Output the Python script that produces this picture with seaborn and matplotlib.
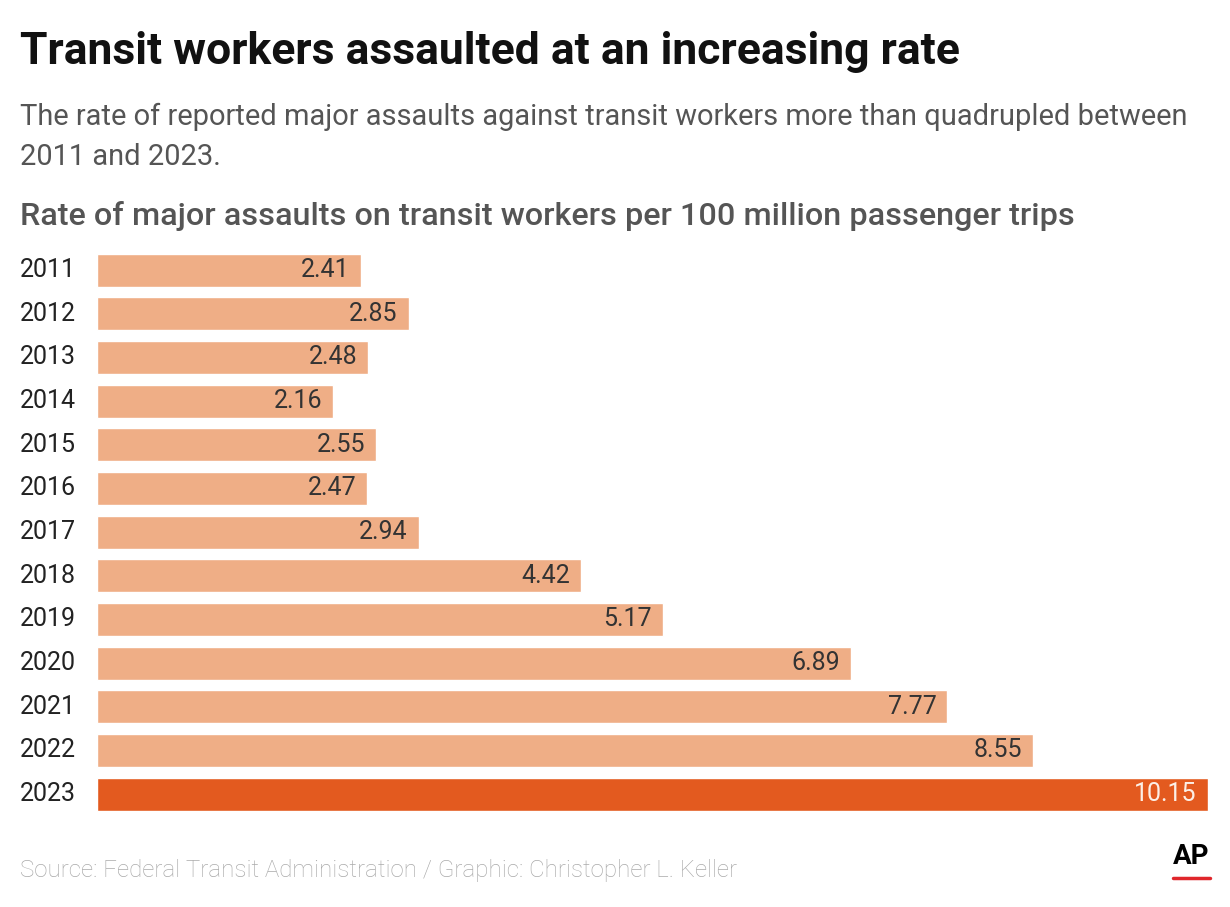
import matplotlib
matplotlib.use("Agg")
import matplotlib.pyplot as plt
import matplotlib.transforms as mtransforms
import seaborn as sns
import pandas as pd

years = ["2011", "2012", "2013", "2014", "2015", "2016", "2017",
         "2018", "2019", "2020", "2021", "2022", "2023"]
rates = [2.41, 2.85, 2.48, 2.16, 2.55, 2.47, 2.94,
         4.42, 5.17, 6.89, 7.77, 8.55, 10.15]
highlight_year = "2023"

base_color = "#EFAE86"
hi_color = "#E35A1F"

df = pd.DataFrame({"Year": years, "Rate": rates})
palette = {y: (hi_color if y == highlight_year else base_color) for y in years}

sns.set_theme(style="white")
plt.rcParams["font.family"] = ["Roboto", "DejaVu Sans"]

fig = plt.figure(figsize=(12.3, 9.07), dpi=100)
ax = fig.add_axes([97 / 1230, 1 - 816 / 907, 1111 / 1230, 567.7 / 907])

sns.barplot(data=df, y="Year", x="Rate", hue="Year", palette=palette,
            orient="h", legend=False, width=0.76, saturation=1, ax=ax)

ax.set_xlim(0, max(rates))
ax.set_ylim(len(years) - 0.5, -0.5)
for s in ax.spines.values():
    s.set_visible(False)
ax.set_xticks([])
ax.set_yticks([])
ax.set_xlabel("")
ax.set_ylabel("")

# year labels on the left
trans = mtransforms.blended_transform_factory(fig.transFigure, ax.transData)
for i, y in enumerate(years):
    ax.text(20 / 1230, i, y, transform=trans, ha="left", va="center",
            fontsize=18, color="#222222")

# value labels inside bar ends
for i, (y, v) in enumerate(zip(years, rates)):
    col = "#FCEFE6" if y == highlight_year else "#333333"
    ax.annotate(f"{v:.2f}", xy=(v, i), xytext=(-8, 0), textcoords="offset points",
                ha="right", va="center", fontsize=18, color=col)

fig.text(20 / 1230, 1 - 52 / 907, "Transit workers assaulted at an increasing rate",
         ha="left", va="center", fontsize=32, fontweight="bold", color="#111111")
fig.text(20 / 1230, 1 - 117 / 907,
         "The rate of reported major assaults against transit workers more than quadrupled between",
         ha="left", va="center", fontsize=20.9, color="#555555")
fig.text(20 / 1230, 1 - 157 / 907, "2011 and 2023.",
         ha="left", va="center", fontsize=20.9, color="#555555")
fig.text(20 / 1230, 1 - 216 / 907,
         "Rate of major assaults on transit workers per 100 million passenger trips",
         ha="left", va="center", fontsize=23.3, fontweight="medium", color="#555555")
fig.text(20 / 1230, 1 - 871 / 907,
         "Source: Federal Transit Administration / Graphic: Christopher L. Keller",
         ha="left", va="center", fontsize=17.4, fontweight="light", color="#AAAAAA")

# AP logo
fig.text(1191 / 1230, 1 - 857 / 907, "AP", ha="center", va="center",
         fontsize=20, fontweight="bold", color="#000000")
fig.add_artist(plt.Line2D([1173 / 1230, 1210 / 1230], [1 - 878 / 907, 1 - 878 / 907],
                          transform=fig.transFigure, color="#E0262B", linewidth=2.5))

fig.savefig("out.png", dpi=100)
